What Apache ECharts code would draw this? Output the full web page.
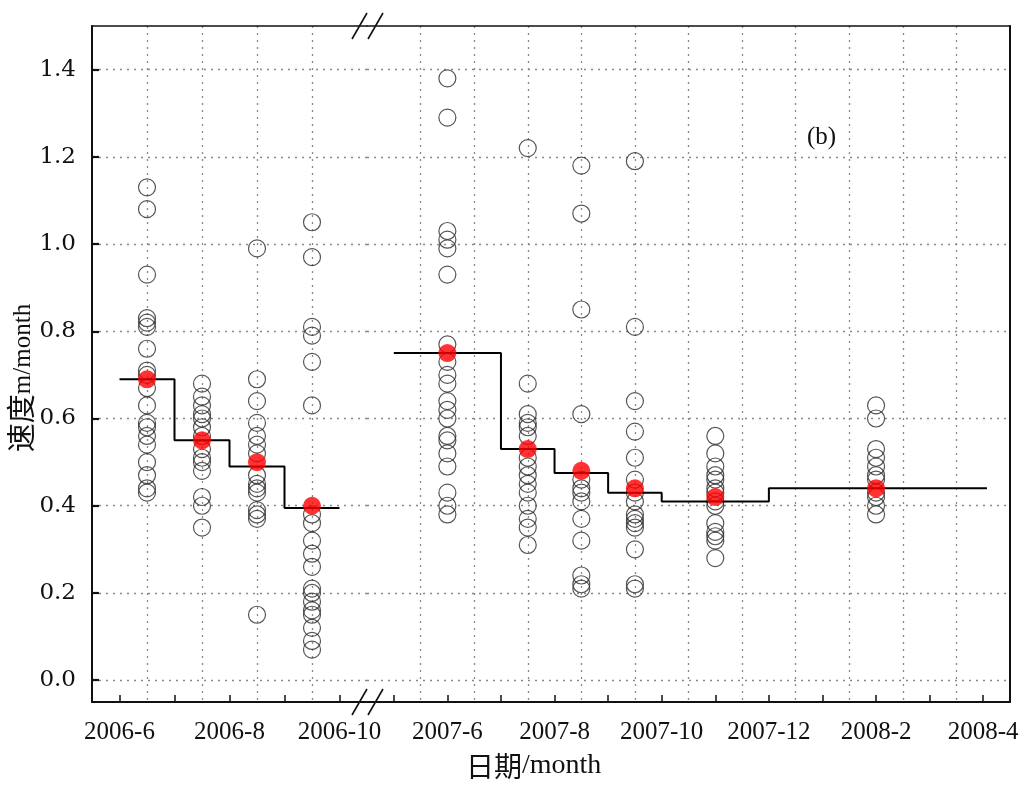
<!DOCTYPE html>
<html>
<head>
<meta charset="utf-8">
<script src="https://cdn.jsdelivr.net/npm/echarts@6/dist/echarts.min.js"></script>
<style>
html,body{margin:0;padding:0;background:#fff;}
#chart{width:1024px;height:785px;}
</style>
</head>
<body>
<div id="chart"></div>
<script>
// ---------- data ----------
const yTicks = [0, 0.2, 0.4, 0.6, 0.8, 1.0, 1.2, 1.4];

// 2006 segment (x in month number of 2006)
const ticks2006 = [6, 7, 8, 9, 10];
const gridX2006 = [6.5, 7.5, 8.5, 9.5];
const labelPos2006 = [6, 8, 10];
const labelText2006 = ['2006-6', '2006-8', '2006-10'];
const x2006 = [6.5, 7.5, 8.5, 9.5];
const obs2006 = [
  [1.13, 1.08, 0.93, 0.83, 0.82, 0.81, 0.76, 0.71, 0.70, 0.67, 0.63, 0.59, 0.58, 0.56, 0.54, 0.50, 0.47, 0.44, 0.43],
  [0.68, 0.65, 0.63, 0.61, 0.60, 0.58, 0.56, 0.53, 0.51, 0.50, 0.48, 0.42, 0.40, 0.35],
  [0.99, 0.69, 0.64, 0.59, 0.56, 0.54, 0.52, 0.47, 0.45, 0.44, 0.43, 0.39, 0.38, 0.37, 0.15],
  [1.05, 0.97, 0.81, 0.79, 0.73, 0.63, 0.38, 0.36, 0.32, 0.29, 0.26, 0.21, 0.20, 0.18, 0.16, 0.15, 0.12, 0.09, 0.07]
];
const mean2006 = [0.69, 0.55, 0.50, 0.40];
const stepX2006 = [6, 7, 8, 9, 10];
const stepY2006 = [0.69, 0.55, 0.49, 0.395];

// 2007-2008 segment (x in month number counted from 2007-0)
const ticks2007 = [5, 6, 7, 8, 9, 10, 11, 12, 13, 14, 15, 16];
const gridX2007 = [5.5, 6.5, 7.5, 8.5, 9.5, 10.5, 11.5, 12.5, 13.5, 14.5, 15.5];
const labelPos2007 = [6, 8, 10, 12, 14, 16];
const labelText2007 = ['2007-6', '2007-8', '2007-10', '2007-12', '2008-2', '2008-4'];
const x2007 = [6, 7.5, 8.5, 9.5, 11, 14];
const obs2007 = [
  [1.38, 1.29, 1.03, 1.01, 0.99, 0.93, 0.77, 0.73, 0.70, 0.68, 0.64, 0.62, 0.60, 0.56, 0.55, 0.52, 0.49, 0.43, 0.40, 0.38],
  [1.22, 0.68, 0.61, 0.59, 0.58, 0.56, 0.51, 0.49, 0.47, 0.45, 0.43, 0.40, 0.37, 0.35, 0.31],
  [1.18, 1.07, 0.85, 0.61, 0.46, 0.44, 0.43, 0.41, 0.37, 0.32, 0.24, 0.22, 0.21],
  [1.19, 0.81, 0.64, 0.57, 0.51, 0.46, 0.43, 0.41, 0.38, 0.37, 0.36, 0.35, 0.30, 0.22, 0.21],
  [0.56, 0.52, 0.49, 0.47, 0.46, 0.44, 0.43, 0.41, 0.40, 0.36, 0.34, 0.33, 0.32, 0.28],
  [0.63, 0.60, 0.53, 0.51, 0.49, 0.47, 0.46, 0.43, 0.42, 0.40, 0.38]
];
const mean2007 = [0.75, 0.53, 0.48, 0.44, 0.42, 0.44];
const stepX2007 = [5, 7, 8, 9, 10, 12, 16.07];
const stepY2007 = [0.75, 0.53, 0.475, 0.43, 0.41, 0.44];

// ---------- layout ----------
const L = 92, BRK = 367, R = 1010, T = 26, B = 702;
const SERIF = '"Liberation Serif", "Times New Roman", serif';
const dotted = { type: [2, 5], color: '#888', width: 1.3 };
const axisLineStyle = { color: '#111', width: 2 };

function pts(xs, cols) {
  const out = [];
  cols.forEach((c, i) => c.forEach(v => out.push([xs[i], v])));
  return out;
}
function stepData(xs, ys) {
  return xs.map((x, i) => [x, ys[Math.min(i, ys.length - 1)]]);
}
function fmt(pos, txt) {
  return v => { const i = pos.indexOf(v); return i >= 0 ? txt[i] : ''; };
}

function bottomAxis(grid, min, max, ticks, lpos, ltxt) {
  return {
    type: 'value', gridIndex: grid, position: 'bottom', min, max,
    axisLine: { show: true, onZero: false, lineStyle: axisLineStyle },
    axisTick: { show: true, inside: true, length: 7, customValues: ticks, lineStyle: { color: '#111', width: 1.5 } },
    axisLabel: { show: true, customValues: lpos, formatter: fmt(lpos, ltxt), margin: 18,
      fontFamily: SERIF, fontSize: 25, color: '#111' },
    splitLine: { show: false }
  };
}
function topAxis(grid, min, max, gx) {
  return {
    type: 'value', gridIndex: grid, position: 'top', min, max,
    axisLine: { show: true, onZero: false, lineStyle: { color: '#111', width: 1.5 } },
    axisTick: { show: false, customValues: gx },
    axisLabel: { show: false, customValues: gx },
    splitLine: { show: true, lineStyle: dotted }
  };
}

const chart = echarts.init(document.getElementById('chart'));

const openCircle = { color: 'rgba(255,255,255,0)', borderColor: '#2a2a2a', borderWidth: 1.2 };

const option = {
  animation: false,
  backgroundColor: '#fff',
  grid: [
    { left: L, top: T, width: BRK - L, height: B - T },
    { left: BRK, top: T, width: R - BRK, height: B - T }
  ],
  xAxis: [
    bottomAxis(0, 5.5, 10.5, ticks2006, labelPos2006, labelText2006),
    topAxis(0, 5.5, 10.5, gridX2006),
    bottomAxis(1, 4.5, 16.5, ticks2007, labelPos2007, labelText2007),
    topAxis(1, 4.5, 16.5, gridX2007)
  ],
  yAxis: [
    {
      type: 'value', gridIndex: 0, position: 'left', min: -0.05, max: 1.5,
      name: '{a|速度}{b|m/month}', nameLocation: 'middle', nameGap: 50, nameRotate: 90,
      nameTextStyle: {
        padding: [0, 0, 0, -28],
        rich: {
          a: { fontFamily: '"Noto Sans CJK SC", sans-serif', fontSize: 29, color: '#111', verticalAlign: 'bottom' },
          b: { fontFamily: SERIF, fontSize: 25, color: '#111', verticalAlign: 'bottom' }
        }
      },
      axisLine: { show: true, onZero: false, lineStyle: { color: '#111', width: 2 } },
      axisTick: { show: true, inside: true, length: 7, customValues: yTicks, lineStyle: { color: '#111', width: 2.2 } },
      axisLabel: { show: true, customValues: yTicks, formatter: v => v.toFixed(1), margin: 16,
        fontFamily: '"DejaVu Serif", serif', fontSize: 23, color: '#111' },
      splitLine: { show: true, lineStyle: dotted }
    },
    {
      type: 'value', gridIndex: 1, position: 'right', min: -0.05, max: 1.5,
      axisLine: { show: true, onZero: false, lineStyle: { color: '#111', width: 2 } },
      axisTick: { show: false, customValues: yTicks },
      axisLabel: { show: false, customValues: yTicks },
      splitLine: { show: true, lineStyle: dotted }
    }
  ],
  series: [
    { type: 'scatter', xAxisIndex: 0, yAxisIndex: 0, symbol: 'circle', symbolSize: 17,
      itemStyle: openCircle, data: pts(x2006, obs2006), z: 2 },
    { type: 'line', xAxisIndex: 0, yAxisIndex: 0, step: 'end', showSymbol: false, symbol: 'none',
      lineStyle: { color: '#000', width: 2 }, data: stepData(stepX2006, stepY2006), z: 3 },
    { type: 'scatter', xAxisIndex: 0, yAxisIndex: 0, symbol: 'circle', symbolSize: 18,
      itemStyle: { color: '#ff0000' }, data: x2006.map((x, i) => [x, mean2006[i]]), z: 4 },

    { type: 'scatter', xAxisIndex: 2, yAxisIndex: 1, symbol: 'circle', symbolSize: 17,
      itemStyle: openCircle, data: pts(x2007, obs2007), z: 2 },
    { type: 'line', xAxisIndex: 2, yAxisIndex: 1, step: 'end', showSymbol: false, symbol: 'none',
      lineStyle: { color: '#000', width: 2 }, data: stepData(stepX2007, stepY2007), z: 3 },
    { type: 'scatter', xAxisIndex: 2, yAxisIndex: 1, symbol: 'circle', symbolSize: 18,
      itemStyle: { color: '#ff0000' }, data: x2007.map((x, i) => [x, mean2007[i]]), z: 4 }
  ],
  graphic: [
    // axis break marks (top and bottom)
    ...[T, B].flatMap(y => [
      { type: 'line', shape: { x1: BRK - 15, y1: y + 13, x2: BRK, y2: y - 13 }, style: { stroke: '#111', lineWidth: 1.6 }, z: 100 },
      { type: 'line', shape: { x1: BRK + 1, y1: y + 13, x2: BRK + 16, y2: y - 13 }, style: { stroke: '#111', lineWidth: 1.6 }, z: 100 }
    ]),
    { type: 'text', left: 807, top: 125, style: { text: '(b)', fontFamily: SERIF, fontSize: 25, fill: '#111' }, z: 100 },
    { type: 'text', left: 466, top: 752,
      style: { text: '{a|日期}{b|/month}',
        rich: {
          a: { fontFamily: '"Noto Sans CJK SC", sans-serif', fontSize: 28, fill: '#111' },
          b: { fontFamily: SERIF, fontSize: 28, fill: '#111' }
        } }, z: 100 }
  ]
};
chart.setOption(option);
</script>
</body>
</html>
